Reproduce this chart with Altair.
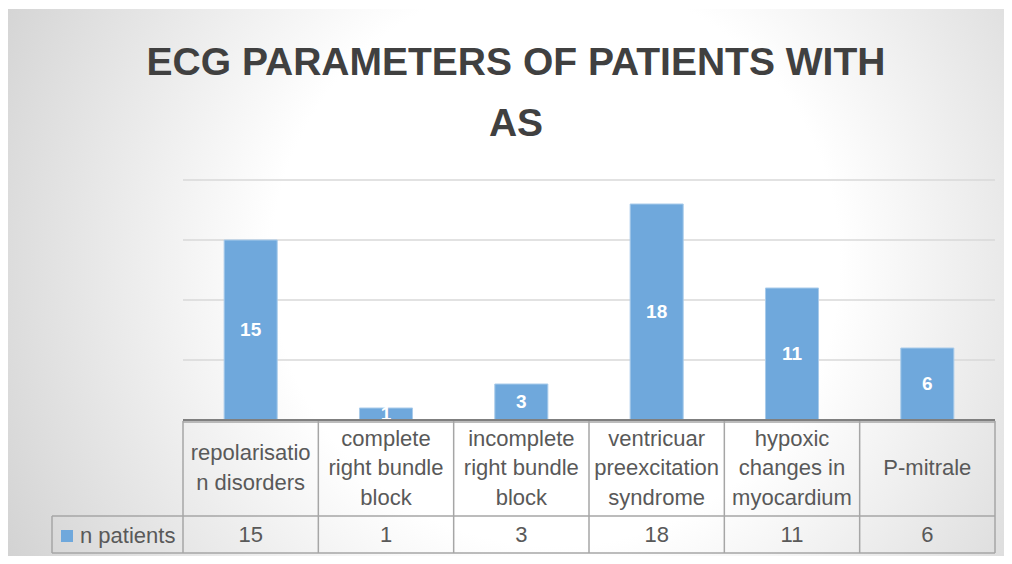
import altair as alt
import pandas as pd

# ---------------- data ----------------
CATEGORIES = [
    "repolarisation disorders",
    "complete right bundle block",
    "incomplete right bundle block",
    "ventricuar preexcitation syndrome",
    "hypoxic changes in myocardium",
    "P-mitrale",
]
TABLE_LABELS = [
    "repolarisatio\nn disorders",
    "complete\nright bundle\nblock",
    "incomplete\nright bundle\nblock",
    "ventricuar\npreexcitation\nsyndrome",
    "hypoxic\nchanges in\nmyocardium",
    "P-mitrale",
]
N_PATIENTS = [15, 1, 3, 18, 11, 6]
SERIES_NAME = "n patients"
TITLE_LINES = ["ECG PARAMETERS OF PATIENTS WITH", "AS"]
Y_TICKS = [5, 10, 15, 20]

FONT = "Liberation Sans"
TEXT_COLOR = "#595959"
BAR_COLOR = "#6fa8dc"
BORDER = "#a6a6a6"

df = pd.DataFrame({
    "category": CATEGORIES,
    "label": TABLE_LABELS,
    "value": N_PATIENTS,
    "series": [SERIES_NAME] * len(CATEGORIES),
})
ticks_df = pd.DataFrame({"value": Y_TICKS})
zero_df = pd.DataFrame({"value": [0]})
title_df = pd.DataFrame({"t": ["\n".join(TITLE_LINES)]})
one_df = pd.DataFrame({"k": [0]})

W, H = 812, 240
PAD = {"left": 175, "top": 172, "right": 9, "bottom": 136}
LINE_H = 29.5
ROW_CENTER = 288

yscale = alt.Scale(domain=[0, 20], nice=False, zero=True)
x_enc = alt.X("category:N", sort=CATEGORIES,
              scale=alt.Scale(paddingInner=0, paddingOuter=0), axis=None)
y_enc = alt.Y("value:Q", scale=yscale, axis=None)

gradient = {
    "gradient": "radial",
    "x1": 0.55, "y1": 0.48, "r1": 0,
    "x2": 0.55, "y2": 0.48, "r2": 0.75,
    "stops": [
        {"offset": 0, "color": "#ffffff"},
        {"offset": 0.38, "color": "#ffffff"},
        {"offset": 1, "color": "#c2c2c2"},
    ],
}

background = alt.Chart(one_df).mark_rect(fill=gradient, strokeWidth=0).encode(
    x=alt.value(-175), x2=alt.value(W + 9),
    y=alt.value(-171), y2=alt.value(H + 136),
)

grid = alt.Chart(ticks_df).mark_rule(color="#d9d9d9", strokeWidth=1.5).encode(
    y=y_enc, x=alt.value(0), x2=alt.value(W)
)

bars = alt.Chart(df).mark_bar(
    width=alt.RelativeBandSize(0.392), stroke="#a9cbea", strokeWidth=1
).encode(
    x=x_enc,
    y=y_enc,
    color=alt.Color(
        "series:N",
        scale=alt.Scale(range=[BAR_COLOR]),
        legend=alt.Legend(
            orient="none", legendX=-127, legendY=345, title=None,
            symbolType="square", symbolSize=144, symbolStrokeWidth=0,
            labelFontSize=22, labelFont=FONT, labelColor=TEXT_COLOR,
            labelOffset=2, padding=0,
        ),
    ),
)

bar_labels = alt.Chart(df).transform_calculate(mid="datum.value / 2").mark_text(
    color="white", fontWeight="bold", fontSize=19, font=FONT, baseline="middle"
).encode(
    x=x_enc,
    y=alt.Y("mid:Q", scale=yscale, axis=None),
    text="value:Q",
)

axis_line = alt.Chart(zero_df).mark_rule(color="#7f7f7f", strokeWidth=2).encode(
    y=y_enc, x=alt.value(0), x2=alt.value(W)
)

# data table borders
def hrule(x0, ypix):
    return alt.Chart(one_df).mark_rule(color=BORDER, strokeWidth=1.5).encode(
        x=alt.value(x0), x2=alt.value(W), y=alt.value(ypix)
    )

h_top = hrule(0, 242)
h_mid = hrule(-131, 336)
h_bot = hrule(-131, 373)
v_cells = alt.Chart(df).mark_rule(color=BORDER, strokeWidth=1.5).encode(
    x=alt.X("category:N", sort=CATEGORIES, bandPosition=0,
            scale=alt.Scale(paddingInner=0, paddingOuter=0), axis=None),
    y=alt.value(241), y2=alt.value(373),
)
v_right = alt.Chart(one_df).mark_rule(color=BORDER, strokeWidth=1.5).encode(
    x=alt.value(W), y=alt.value(241), y2=alt.value(373)
)
v_legend = alt.Chart(one_df).mark_rule(color=BORDER, strokeWidth=1.5).encode(
    x=alt.value(-131), y=alt.value(336), y2=alt.value(373)
)

# category labels, vertically centred in the label row by line count
label_layers = []
for n in (1, 2, 3):
    label_layers.append(
        alt.Chart(df)
        .transform_calculate(nlines="length(split(datum.label, '\\n'))")
        .transform_filter(f"datum.nlines == {n}")
        .mark_text(
            fontSize=22, font=FONT, color=TEXT_COLOR, lineBreak="\n",
            lineHeight=LINE_H, baseline="middle", align="center",
        )
        .encode(x=x_enc, y=alt.value(ROW_CENTER - (n - 1) * LINE_H / 2), text="label:N")
    )

table_values = alt.Chart(df).mark_text(
    fontSize=22, font=FONT, color=TEXT_COLOR, baseline="middle", align="center",
).encode(x=x_enc, y=alt.value(354.5), text="value:Q")

title = alt.Chart(title_df).mark_text(
    fontSize=39, font=FONT, fontWeight="bold", color="#404040",
    lineBreak="\n", lineHeight=61, baseline="alphabetic", align="center",
).encode(x=alt.value(333), y=alt.value(-105), text="t:N")

chart = alt.layer(
    background, grid, bars, bar_labels, axis_line,
    h_top, h_mid, h_bot, v_cells, v_right, v_legend,
    *label_layers, table_values, title,
).properties(
    width=W, height=H, padding=PAD,
    autosize=alt.AutoSizeParams(type="none"),
    background="#ffffff",
).configure_view(stroke=None)

chart.save("out.html", embed_options={"renderer": "svg", "actions": False})
